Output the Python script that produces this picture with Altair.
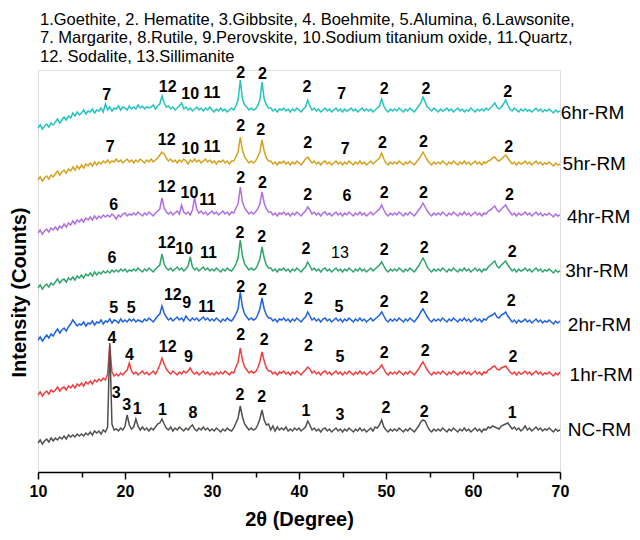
import altair as alt
import pandas as pd

# 2-theta sampling grid (degrees), 0.25 deg steps from 10 to 70
THETA = [round(10 + 0.25 * i, 2) for i in range(241)]

SAMPLES = ["6hr-RM", "5hr-RM", "4hr-RM", "3hr-RM", "2hr-RM", "1hr-RM", "NC-RM"]
COLORS = ["#22c3c3", "#d4a21c", "#b06ee0", "#2ea46a", "#1f62e0", "#f03e3e", "#505050"]

# stacked intensities (a.u.), one value per THETA point, 4 per degree
I_6HR = [
    344, 347, 343, 346, 348, 345, 349, 347, 350, 353, 349, 352, 355, 352, 356, 354,
    359, 356, 360, 357, 359, 362, 358, 361, 360, 363, 359, 362, 361, 364, 360, 368,
    362, 365, 361, 364, 363, 366, 362, 365, 364, 362, 366, 363, 365, 363, 367, 364,
    366, 363, 365, 364, 365, 367, 363, 366, 368, 376, 369, 365, 366, 363, 365, 362,
    364, 366, 369, 363, 365, 362, 364, 361, 363, 365, 362, 364, 361, 364, 362, 365,
    362, 360, 363, 361, 364, 361, 363, 360, 362, 364, 362, 366, 372, 392, 373, 367,
    365, 362, 364, 362, 363, 366, 372, 390, 373, 367, 364, 364, 361, 363, 360, 363,
    362, 364, 361, 363, 360, 363, 361, 364, 362, 360, 363, 365, 372, 366, 362, 364,
    361, 363, 360, 362, 364, 361, 363, 360, 362, 364, 361, 363, 360, 363, 361, 362,
    364, 361, 363, 360, 362, 364, 361, 363, 361, 363, 360, 362, 364, 366, 373, 366,
    362, 360, 363, 361, 363, 361, 364, 362, 360, 363, 361, 364, 362, 360, 363, 366,
    369, 375, 370, 365, 363, 361, 364, 362, 360, 363, 361, 362, 364, 361, 363, 360,
    362, 364, 361, 363, 360, 362, 361, 364, 362, 360, 363, 361, 363, 361, 364, 362,
    364, 366, 369, 365, 363, 365, 368, 372, 367, 363, 361, 364, 362, 360, 363, 361,
    363, 361, 362, 360, 362, 364, 361, 363, 360, 362, 361, 363, 361, 359, 362, 360,
    361,
]
I_5HR = [
    292, 295, 291, 294, 296, 293, 297, 295, 298, 301, 297, 300, 302, 299, 303, 301,
    305, 302, 306, 303, 307, 304, 308, 306, 309, 306, 310, 307, 310, 308, 311, 309,
    312, 309, 311, 310, 313, 310, 312, 309, 311, 313, 310, 312, 309, 312, 310, 313,
    311, 309, 312, 310, 313, 310, 312, 314, 317, 320, 318, 314, 311, 313, 310, 312,
    309, 312, 310, 313, 311, 308, 312, 310, 313, 310, 312, 309, 311, 313, 310, 312,
    309, 311, 308, 311, 310, 312, 309, 311, 308, 311, 311, 315, 320, 335, 322, 315,
    312, 309, 311, 309, 311, 315, 320, 332, 321, 314, 311, 311, 308, 310, 307, 310,
    309, 311, 308, 310, 307, 310, 308, 311, 309, 307, 310, 313, 315, 312, 309, 311,
    308, 310, 307, 310, 311, 308, 310, 307, 309, 311, 308, 310, 307, 310, 308, 311,
    309, 307, 310, 308, 311, 308, 310, 307, 309, 311, 308, 310, 312, 314, 319, 313,
    309, 307, 310, 308, 310, 308, 311, 309, 307, 310, 308, 311, 309, 307, 310, 313,
    316, 320, 316, 312, 309, 307, 310, 308, 310, 308, 311, 309, 307, 310, 308, 311,
    309, 307, 310, 308, 311, 308, 310, 307, 309, 311, 308, 310, 307, 310, 309, 311,
    312, 314, 315, 312, 311, 313, 315, 317, 314, 311, 308, 310, 307, 310, 308, 309,
    311, 308, 310, 307, 309, 311, 308, 310, 307, 309, 308, 310, 308, 306, 309, 307,
    308,
]
I_4HR = [
    239, 242, 238, 241, 243, 240, 244, 242, 245, 242, 246, 244, 248, 245, 249, 247,
    251, 248, 252, 250, 253, 250, 254, 252, 255, 252, 256, 253, 256, 254, 257, 255,
    257, 255, 258, 256, 253, 257, 255, 258, 259, 256, 258, 257, 259, 257, 260, 258,
    256, 259, 257, 260, 258, 256, 259, 261, 263, 274, 264, 260, 258, 260, 257, 259,
    261, 258, 267, 260, 258, 260, 257, 262, 274, 263, 259, 261, 258, 260, 257, 259,
    261, 258, 260, 257, 259, 261, 258, 260, 257, 260, 259, 264, 268, 285, 270, 264,
    261, 258, 260, 258, 260, 263, 268, 280, 269, 263, 260, 260, 257, 259, 256, 259,
    258, 260, 257, 259, 256, 259, 257, 260, 258, 256, 259, 261, 265, 262, 258, 260,
    257, 259, 256, 259, 260, 257, 259, 256, 258, 260, 257, 259, 256, 259, 257, 260,
    258, 256, 259, 257, 260, 257, 259, 256, 258, 260, 257, 259, 261, 263, 267, 262,
    258, 256, 259, 257, 259, 257, 260, 258, 256, 259, 257, 260, 258, 256, 259, 262,
    265, 269, 265, 261, 258, 256, 259, 257, 259, 257, 260, 258, 256, 259, 257, 260,
    258, 256, 259, 257, 260, 257, 259, 256, 258, 260, 257, 259, 256, 259, 258, 261,
    262, 264, 266, 262, 260, 263, 265, 267, 263, 260, 257, 259, 256, 259, 257, 258,
    260, 257, 259, 256, 258, 260, 257, 259, 256, 258, 257, 259, 257, 255, 258, 256,
    257,
]
I_3HR = [
    184, 187, 183, 186, 188, 185, 189, 187, 190, 193, 189, 192, 193, 190, 194, 192,
    195, 192, 196, 194, 197, 194, 198, 196, 199, 196, 200, 197, 200, 198, 201, 199,
    201, 199, 202, 200, 202, 200, 203, 201, 203, 200, 202, 201, 203, 201, 204, 202,
    200, 203, 201, 204, 202, 200, 203, 205, 207, 218, 208, 204, 202, 204, 201, 203,
    205, 202, 204, 201, 203, 206, 215, 205, 202, 204, 201, 203, 205, 202, 204, 201,
    203, 201, 204, 202, 200, 203, 201, 204, 202, 201, 204, 208, 214, 232, 216, 208,
    205, 202, 204, 202, 203, 207, 213, 225, 214, 207, 204, 204, 201, 203, 200, 203,
    202, 204, 201, 203, 200, 203, 201, 204, 202, 200, 203, 205, 210, 206, 202, 204,
    201, 203, 200, 203, 204, 201, 203, 200, 202, 204, 201, 203, 200, 203, 201, 204,
    202, 200, 203, 201, 204, 201, 203, 200, 202, 204, 201, 203, 205, 207, 210, 206,
    202, 200, 203, 201, 203, 201, 204, 202, 200, 203, 201, 204, 202, 200, 203, 206,
    210, 214, 210, 205, 202, 200, 203, 201, 203, 201, 204, 202, 200, 203, 201, 204,
    202, 200, 203, 201, 204, 201, 203, 200, 202, 204, 201, 203, 200, 203, 202, 205,
    207, 209, 211, 206, 204, 207, 209, 211, 207, 204, 201, 203, 200, 203, 201, 202,
    204, 201, 203, 200, 202, 204, 201, 203, 200, 202, 201, 203, 201, 199, 202, 200,
    201,
]
I_2HR = [
    132, 135, 131, 134, 137, 134, 138, 136, 140, 143, 139, 142, 144, 141, 145, 148,
    152, 149, 146, 148, 147, 150, 146, 149, 148, 151, 147, 150, 149, 152, 148, 151,
    150, 153, 149, 152, 151, 149, 153, 150, 152, 150, 153, 151, 153, 150, 152, 151,
    150, 153, 151, 154, 152, 150, 153, 156, 158, 166, 159, 155, 152, 154, 151, 153,
    155, 152, 154, 151, 156, 153, 151, 154, 152, 154, 151, 153, 155, 152, 154, 151,
    153, 151, 154, 152, 150, 153, 151, 154, 152, 151, 154, 158, 163, 180, 165, 158,
    155, 152, 154, 152, 153, 157, 163, 174, 163, 157, 154, 154, 151, 153, 150, 153,
    152, 154, 151, 153, 150, 153, 151, 154, 152, 150, 153, 155, 160, 156, 152, 154,
    151, 153, 150, 153, 154, 151, 153, 150, 152, 154, 151, 153, 150, 153, 151, 154,
    152, 150, 153, 151, 154, 151, 153, 150, 152, 154, 151, 153, 155, 157, 160, 156,
    152, 150, 153, 151, 153, 151, 154, 152, 150, 153, 151, 154, 152, 150, 153, 156,
    160, 163, 159, 155, 152, 150, 153, 151, 153, 151, 154, 152, 150, 153, 151, 154,
    152, 150, 153, 151, 154, 151, 153, 150, 152, 154, 151, 153, 150, 153, 152, 155,
    156, 157, 159, 155, 154, 157, 158, 160, 156, 153, 150, 152, 149, 152, 150, 151,
    153, 150, 152, 149, 151, 153, 150, 152, 149, 151, 150, 152, 150, 148, 151, 149,
    151,
]
I_1HR = [
    77, 80, 76, 79, 81, 78, 82, 80, 82, 85, 81, 84, 85, 82, 86, 84,
    87, 84, 88, 86, 89, 86, 90, 88, 91, 88, 92, 90, 93, 91, 94, 92,
    98, 127, 100, 96, 98, 96, 99, 97, 100, 102, 109, 101, 98, 100, 97, 99,
    101, 98, 100, 97, 99, 101, 98, 102, 107, 114, 108, 103, 100, 98, 101, 99,
    97, 100, 98, 101, 99, 101, 104, 100, 98, 100, 97, 99, 101, 98, 100, 97,
    99, 97, 100, 98, 100, 98, 101, 99, 97, 100, 99, 105, 110, 124, 112, 105,
    102, 99, 101, 99, 100, 104, 110, 120, 111, 104, 101, 101, 98, 100, 97, 100,
    99, 101, 98, 100, 97, 100, 98, 101, 99, 97, 100, 102, 105, 103, 99, 101,
    98, 100, 97, 100, 101, 98, 100, 97, 99, 101, 98, 100, 97, 100, 98, 101,
    99, 97, 100, 98, 101, 98, 100, 97, 99, 101, 98, 100, 102, 104, 107, 103,
    99, 97, 100, 98, 100, 98, 101, 99, 97, 100, 98, 101, 99, 97, 100, 103,
    107, 110, 106, 102, 99, 97, 100, 98, 100, 98, 101, 99, 97, 100, 98, 101,
    99, 97, 100, 98, 101, 98, 100, 97, 99, 101, 98, 100, 97, 100, 99, 102,
    103, 105, 106, 103, 102, 104, 105, 106, 103, 100, 98, 100, 97, 100, 98, 99,
    101, 98, 100, 97, 99, 101, 98, 100, 97, 99, 98, 100, 98, 96, 99, 97,
    100,
]
I_NC = [
    29, 32, 28, 31, 33, 30, 34, 31, 34, 32, 35, 33, 36, 33, 37, 35,
    37, 35, 38, 36, 38, 36, 39, 37, 40, 37, 41, 39, 41, 38, 42, 40,
    45, 129, 48, 42, 43, 41, 44, 42, 46, 57, 47, 43, 45, 53, 46, 42,
    45, 42, 44, 41, 44, 42, 45, 48, 49, 53, 48, 44, 42, 45, 41, 44,
    42, 45, 43, 41, 44, 42, 45, 47, 43, 41, 44, 42, 45, 42, 44, 41,
    43, 41, 44, 42, 40, 43, 41, 44, 42, 41, 44, 49, 54, 66, 55, 48,
    45, 42, 44, 42, 43, 47, 53, 62, 52, 47, 48, 42, 46, 41, 45, 42,
    44, 42, 45, 41, 43, 41, 44, 42, 44, 41, 43, 45, 51, 47, 42, 44,
    41, 43, 40, 43, 44, 41, 43, 40, 42, 44, 41, 43, 40, 43, 41, 44,
    42, 40, 43, 41, 44, 41, 43, 40, 42, 44, 41, 45, 44, 47, 52, 45,
    42, 40, 43, 41, 43, 41, 44, 42, 40, 43, 41, 44, 42, 40, 43, 46,
    50, 52, 51, 46, 42, 40, 43, 41, 43, 41, 44, 42, 40, 43, 41, 44,
    42, 40, 43, 41, 44, 41, 43, 40, 42, 44, 41, 43, 40, 43, 42, 45,
    44, 46, 45, 44, 43, 46, 47, 48, 49, 46, 43, 45, 42, 44, 41, 43,
    46, 42, 44, 41, 43, 45, 42, 44, 41, 43, 42, 44, 42, 40, 43, 41,
    42,
]
TRACES = [I_6HR, I_5HR, I_4HR, I_3HR, I_2HR, I_1HR, I_NC]

# sample-name labels at the right end of each trace
NAME_THETA = [70.1, 70.3, 70.8, 70.6, 70.9, 71.1, 70.9]
NAME_Y = [359, 308, 255, 201, 147, 97, 42]

# phase labels over peaks
PEAK_TEXT = [
    "7", "12", "10", "11", "2", "2", "2", "7", "2", "2", "2",
    "7", "12", "10", "11", "2", "2", "2", "7", "2", "2", "2",
    "6", "12", "10", "11", "2", "2", "2", "6", "2", "2", "2",
    "6", "12", "10", "11", "2", "2", "2", "13", "2", "2", "2",
    "5", "5", "12", "9", "11", "2", "2", "2", "5", "2", "2", "2",
    "4", "4", "12", "9", "2", "2", "2", "5", "2", "2", "2",
    "3", "3", "1", "1", "8", "2", "2", "1", "3", "2", "2", "1",
]
PEAK_THETA = [
    17.9, 24.9, 27.5, 30.0, 33.3, 35.8, 40.9, 44.9, 49.8, 54.6, 64.0,
    18.3, 24.8, 27.5, 30.0, 33.3, 35.6, 41.0, 45.3, 49.6, 54.3, 64.1,
    18.7, 24.8, 27.4, 29.5, 33.3, 35.8, 41.0, 45.5, 49.8, 54.3, 64.2,
    18.5, 24.8, 26.8, 29.6, 33.2, 35.7, 40.8, 44.7, 49.8, 54.4, 64.5,
    18.7, 20.7, 25.5, 27.1, 29.4, 33.3, 35.8, 41.1, 44.6, 49.8, 54.4, 64.4,
    18.5, 20.5, 24.9, 27.3, 33.3, 36.0, 41.1, 44.7, 49.8, 54.5, 64.6,
    19.0, 20.2, 21.4, 24.3, 27.8, 33.2, 35.7, 40.8, 44.7, 50.0, 54.4, 64.5,
]
PEAK_Y = [
    377, 385, 378, 379, 399, 398, 385, 378, 383, 383, 380,
    325, 332, 323, 325, 346, 342, 329, 323, 329, 330, 325,
    267, 285, 279, 272, 294, 289, 277, 276, 279, 279, 277,
    214, 229, 223, 219, 239, 235, 223, 219, 222, 224, 220,
    164, 164, 177, 169, 165, 185, 182, 173, 165, 170, 174, 171,
    134, 117, 125, 115, 137, 132, 126, 115, 119, 121, 115,
    79, 67, 63, 62, 59, 77, 75, 61, 57, 64, 60, 59,
]
PEAK_WEIGHT = ["bold"] * len(PEAK_TEXT)
PEAK_WEIGHT[PEAK_TEXT.index("13")] = "normal"

LEGEND_LINES = [
    "1.Goethite, 2. Hematite, 3.Gibbsite, 4. Boehmite, 5.Alumina, 6.Lawsonite,",
    "7. Margarite, 8.Rutile, 9.Perovskite, 10.Sodium titanium oxide, 11.Quartz,",
    "12. Sodalite, 13.Sillimanite",
]
X_TICKS = [10, 15, 20, 25, 30, 35, 40, 45, 50, 55, 60, 65, 70]

rows = []
for name, vals in zip(SAMPLES, TRACES):
    for t, v in zip(THETA, vals):
        rows.append({"theta": t, "intensity": v, "sample": name})
traces_df = pd.DataFrame(rows)

peaks_df = pd.DataFrame({"theta": PEAK_THETA, "intensity": PEAK_Y,
                         "text": PEAK_TEXT, "weight": PEAK_WEIGHT})
names_df = pd.DataFrame({"theta": NAME_THETA, "intensity": NAME_Y, "text": SAMPLES})

FONT = "Liberation Sans"
x_scale = alt.Scale(domain=[10, 70], nice=False, zero=False)
y_scale = alt.Scale(domain=[0, 402], nice=False, zero=False)

x_axis = alt.Axis(
    values=X_TICKS,
    labelExpr="datum.value % 10 === 0 ? datum.label : ''",
    grid=False, domainColor="#000000", domainWidth=1.5,
    tickColor="#000000", tickWidth=1.5,
    tickSize={"condition": {"test": "datum.value % 10 === 0", "value": 7}, "value": 5},
    labelFont=FONT, labelFontSize=16, labelFontWeight="bold", labelColor="#000000",
    labelPadding=4, labelFlush=False,
    titleFont=FONT, titleFontSize=20, titleFontWeight="bold", titleColor="#000000",
    titlePadding=10,
)
y_axis = alt.Axis(
    domain=False, ticks=False, labels=False, grid=False,
    titleFont=FONT, titleFontSize=20, titleFontWeight="bold", titleColor="#000000",
    titlePadding=9, titleY=222,
)

x_enc = alt.X("theta:Q", scale=x_scale, axis=x_axis, title="2θ (Degree)")
y_enc = alt.Y("intensity:Q", scale=y_scale, axis=y_axis, title="Intensity (Counts)")

lines = alt.Chart(traces_df).mark_line(strokeWidth=1.5).encode(
    x=x_enc, y=y_enc,
    color=alt.Color("sample:N", scale=alt.Scale(domain=SAMPLES, range=COLORS), legend=None),
)

peaks_bold = alt.Chart(peaks_df).transform_filter("datum.weight === 'bold'").mark_text(
    font=FONT, fontSize=16, fontWeight="bold", color="#000000", baseline="middle", align="center"
).encode(x=x_enc, y=y_enc, text="text:N")

peaks_normal = alt.Chart(peaks_df).transform_filter("datum.weight === 'normal'").mark_text(
    font=FONT, fontSize=16, fontWeight="normal", color="#000000", baseline="middle", align="center"
).encode(x=x_enc, y=y_enc, text="text:N")

names = alt.Chart(names_df).mark_text(
    font=FONT, fontSize=19, color="#000000", baseline="middle", align="left"
).encode(x=x_enc, y=y_enc, text="text:N")

chart = alt.layer(lines, peaks_bold, peaks_normal, names).properties(
    width=522, height=402,
    padding={"left": 30, "top": 62, "right": 72, "bottom": 60},
    autosize=alt.AutoSizeParams(type="none"),
    title=alt.TitleParams(text=LEGEND_LINES, anchor="start", frame="group",
                          font=FONT, fontSize=16.5, fontWeight="normal", color="#000000",
                          lineHeight=18.5, offset=0, dx=2),
).configure_view(stroke=None).configure(font=FONT, background="white")

chart.save("out.html", embed_options={"renderer": "svg", "actions": False})
